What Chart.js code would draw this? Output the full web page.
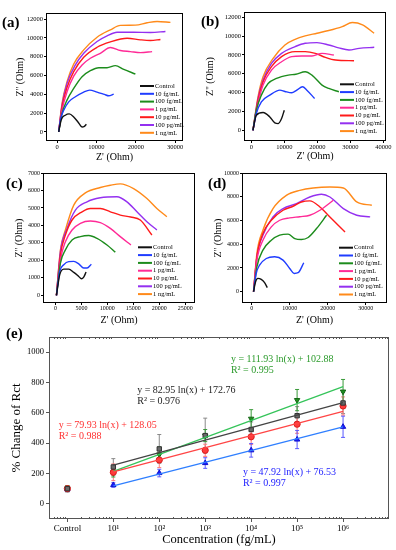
<!DOCTYPE html>
<html>
<head>
<meta charset="utf-8">
<script src="https://cdn.jsdelivr.net/npm/chart.js@4.4.0/dist/chart.umd.min.js"></script>
<style>
  body { margin: 0; background: #fff; width: 396px; height: 550px; position: relative; overflow: hidden; font-family: 'Liberation Serif', 'DejaVu Serif', serif; }
  canvas { position: absolute; }
  .tag { position: absolute; font-weight: bold; font-size: 15px; line-height: 15px; color: #000; }
</style>
</head>
<body>
<canvas id="chart-a" width="200" height="166" style="left:0;top:0"></canvas>
<canvas id="chart-b" width="200" height="166" style="left:196px;top:0"></canvas>
<canvas id="chart-c" width="200" height="164" style="left:0;top:166px"></canvas>
<canvas id="chart-d" width="200" height="164" style="left:196px;top:166px"></canvas>
<canvas id="chart-e" width="396" height="232" style="left:0;top:318px"></canvas>
<div class="tag" style="left:2px;top:15px">(a)</div>
<div class="tag" style="left:201px;top:14px">(b)</div>
<div class="tag" style="left:6px;top:176px">(c)</div>
<div class="tag" style="left:208px;top:176px">(d)</div>
<div class="tag" style="left:6px;top:326px">(e)</div>
<script>
const SERIF = "'Liberation Serif', 'DejaVu Serif', serif"

const curveLabels = ['Control', '10 fg/mL', '100 fg/mL', '1 pg/mL', '10 pg/mL', '100 pg/mL', '1 ng/mL']
const curveColors = ['#111111', '#1f3cff', '#1c8c1c', '#ff2a96', '#ff1a1a', '#9430f0', '#ff8a1a']

// Nyquist curves, [Z', Z''] pairs
const aControl = [[420, 0], [1100, 1320], [2100, 1780], [3100, 1920], [4240, 1600], [5500, 960], [6360, 530], [6950, 600], [7460, 820]]
const aBlue = [[420, 0], [850, 1250], [1700, 2310], [2970, 3200], [4660, 3740], [6780, 4240], [8300, 4450], [10170, 4240], [12030, 3990], [13140, 3840], [14400, 4020]]
const aGreen = [[420, 0], [1270, 1960], [2540, 3380], [4240, 4630], [6360, 5870], [8470, 6510], [10600, 6830], [12700, 6830], [14830, 7050], [16950, 6650], [19900, 6160]]
const aPink = [[420, 0], [1270, 2310], [2540, 4270], [4240, 5940], [6360, 7120], [8470, 7830], [11000, 8360], [13560, 8970], [16100, 8650], [18640, 8540], [21200, 8430], [24150, 8540]]
const aRed = [[420, 0], [1270, 2670], [2540, 4730], [4240, 6410], [6780, 7940], [10170, 9000], [13560, 9570], [17800, 9960], [21190, 9790], [23730, 9720], [26270, 9820]]
const aPurple = [[420, 0], [1270, 2850], [2540, 5160], [4660, 7120], [6780, 8360], [10170, 9610], [12710, 10210], [15250, 10600], [19490, 10600], [23730, 10570], [27540, 10680]]
const aOrange = [[420, 0], [1270, 3020], [2540, 5340], [4240, 7220], [6780, 8720], [10170, 10070], [13560, 10850], [16100, 11320], [19900, 11350], [22880, 11600], [25420, 11740], [28810, 11640]]

const bControl = [[510, 0], [1530, 1600], [3570, 1880], [5610, 1420], [7140, 780], [8160, 710], [9180, 1240], [10000, 2130]]
const bBlue = [[510, 0], [1530, 1780], [3060, 3020], [5610, 3730], [8670, 4260], [10200, 4120], [12240, 3980], [13780, 4260], [15510, 4620], [16840, 4260], [19180, 3380]]
const bGreen = [[510, 0], [1530, 2130], [3060, 3730], [5100, 4970], [7650, 5510], [11220, 5860], [13500, 5950], [16330, 6220], [18370, 5860], [21430, 4800], [23470, 4440], [26530, 4090]]
const bPink = [[510, 0], [2040, 2840], [3570, 4800], [6120, 6390], [9180, 7280], [12240, 7820], [15310, 7890], [18370, 7890], [21430, 8170], [25000, 7990]]
const bRed = [[510, 0], [2040, 3200], [3570, 5150], [6120, 6750], [9180, 7820], [13270, 8350], [16330, 8350], [19390, 8170], [22450, 7740], [25510, 7460], [31120, 7390]]
const bPurple = [[510, 0], [2040, 3370], [3570, 5330], [6120, 7100], [9180, 8170], [13270, 8880], [16330, 9240], [19900, 9310], [23470, 9060], [26500, 8750], [29590, 8530], [32650, 8700], [37240, 8810]]
const bOrange = [[510, 0], [2040, 3550], [3570, 5680], [6630, 7640], [10200, 9060], [13270, 9660], [16330, 10020], [19900, 10300], [23470, 10590], [27550, 11010], [30600, 11440], [33700, 11200], [37200, 10300]]

const cControl = [[190, 0], [830, 1180], [1600, 1500], [2560, 1500], [3530, 1310], [4490, 1080], [5000, 950], [5450, 1040], [5900, 1330]]
const cBlue = [[190, 0], [830, 1370], [1600, 1750], [2560, 1930], [3530, 1940], [4490, 1800], [5450, 1560], [6090, 1560], [6920, 1780]]
const cGreen = [[190, 0], [960, 1840], [1920, 2600], [3200, 3170], [4810, 3360], [6410, 3420], [8010, 3260], [9940, 2880], [11540, 2470]]
const cPink = [[190, 0], [960, 2030], [1920, 3070], [3200, 3740], [4810, 4120], [6730, 4250], [8650, 4160], [10580, 3830], [12500, 3360], [14550, 2880]]
const cRed = [[190, 0], [960, 2320], [1920, 3450], [3200, 4310], [5130, 4780], [6730, 4970], [8650, 4970], [10580, 4780], [12500, 4590], [14500, 4480], [16350, 4310], [18590, 3450]]
const cPurple = [[190, 0], [960, 2500], [2240, 3830], [3850, 4880], [6090, 5350], [8650, 5580], [11860, 5640], [13780, 5350], [15710, 4780], [17630, 4210], [19550, 3740]]
const cOrange = [[190, 0], [960, 2600], [1920, 3740], [3530, 5160], [5770, 5860], [8650, 6170], [10580, 6300], [12500, 6380], [15060, 6110], [17630, 5540], [19550, 4970], [21470, 4500]]

const dControl = [[440, 0], [970, 840], [1590, 1120], [2470, 1040], [3350, 760], [4060, 340]]
const dBlue = [[440, 0], [1150, 1540], [2030, 2240], [3800, 2800], [6000, 2940], [8210, 2660], [9970, 1960], [11120, 1540], [12180, 1600], [13680, 2440]]
const dGreen = [[440, 0], [1320, 2100], [2910, 3500], [5120, 4340], [7330, 4760], [9530, 4850], [11300, 4480], [13060, 4400], [14830, 4570], [17030, 5320], [19680, 6440]]
const dPink = [[440, 0], [1320, 2660], [2910, 4340], [5120, 5460], [7330, 6020], [9970, 6220], [12620, 6320], [15270, 6440], [17920, 6860], [21450, 7700]]
const dRed = [[440, 0], [1320, 2940], [2910, 4900], [5120, 6020], [8210, 6860], [10860, 7200], [13060, 7560], [15270, 7650], [17920, 7140], [20560, 6300], [24540, 5040]]
const dPurple = [[440, 0], [1320, 2940], [2910, 4760], [5560, 6300], [8210, 7000], [11740, 7420], [15270, 7980], [18360, 8210], [20560, 7980], [24100, 7000], [27630, 6440], [31160, 6300]]
const dOrange = [[440, 0], [1320, 3220], [2910, 5180], [5560, 7000], [9090, 8120], [12620, 8540], [16150, 8740], [20560, 8820], [24100, 8740], [27630, 7560], [31600, 7280]]

// Panel (e): % change of Rct, x in decades (0 = control)
const eTicks = [0, 1, 2, 3, 4, 5, 6]
const eTickLabels = ['Control', '10\u00b9', '10\u00b2', '10\u00b3', '10\u2074', '10\u2075', '10\u2076']
const eX = [0, 1, 2, 3, 4, 5, 6]
const blackY = [100, 243, 362, 450, 490, 581, 665]
const blackErr = [20, 55, 95, 115, 50, 60, 70]
const redY = [100, 208, 289, 353, 442, 525, 645]
const redErr = [20, 55, 50, 40, 50, 60, 60]
const greenY = [100, 207, 325, 450, 561, 684, 740]
const greenErr = [20, 30, 50, 40, 60, 70, 80]
const blueY = [95, 124, 203, 269, 353, 424, 508]
const blueErr = [15, 15, 25, 35, 45, 60, 70]
const fitX = [1, 6]
const blackFit = [255, 667]
const redFit = [210, 609]
const greenFit = [214, 773]
const blueFit = [119, 508]

const framePlugin = {
  id: 'frame',
  afterDraw (chart, args, opts) {
    const { ctx, chartArea: a } = chart
    ctx.save()
    ctx.strokeStyle = opts.color || '#000'
    ctx.lineWidth = 1
    ctx.strokeRect(Math.round(a.left) + 0.5, Math.round(a.top) + 0.5, Math.round(a.width) - 1, Math.round(a.height) - 1)
    ctx.restore()
  }
}

const insideLegend = {
  id: 'inLegend',
  afterDraw (chart, args, opts) {
    if (!opts.show) return
    const { ctx, chartArea: a } = chart
    ctx.save()
    ctx.font = `6.5px ${SERIF}`
    ctx.textBaseline = 'middle'
    chart.data.datasets.forEach((ds, i) => {
      const x = a.right - opts.dx
      const y = a.bottom - opts.dy + i * 7.8
      ctx.strokeStyle = ds.borderColor
      ctx.lineWidth = 2
      ctx.beginPath()
      ctx.moveTo(x, y)
      ctx.lineTo(x + 14, y)
      ctx.stroke()
      ctx.fillStyle = '#000'
      ctx.fillText(ds.label, x + 15, y)
    })
    ctx.restore()
  }
}

const errorBars = {
  id: 'errorBars',
  beforeDatasetsDraw (chart) {
    const { ctx, scales: { x, y } } = chart
    chart.data.datasets.forEach((ds) => {
      if (!ds.errors) return
      ctx.save()
      ctx.strokeStyle = ds.errorColor
      ctx.lineWidth = 1
      ds.data.forEach((p, i) => {
        const px = x.getPixelForValue(p.x)
        const top = y.getPixelForValue(p.y + ds.errors[i])
        const bot = y.getPixelForValue(p.y - ds.errors[i])
        ctx.beginPath()
        ctx.moveTo(px, top)
        ctx.lineTo(px, bot)
        ctx.moveTo(px - 2, top)
        ctx.lineTo(px + 2, top)
        ctx.moveTo(px - 2, bot)
        ctx.lineTo(px + 2, bot)
        ctx.stroke()
      })
      ctx.restore()
    })
  }
}

const notes = {
  id: 'notes',
  afterDraw (chart, args, opts) {
    if (!opts.items) return
    const { ctx, scales: { x, y }, chartArea: a } = chart
    ctx.save()
    ctx.font = `10px ${SERIF}`
    ctx.textBaseline = 'middle'
    opts.items.forEach((it) => {
      ctx.fillStyle = it.color
      const px = x.getPixelForValue(it.x)
      const py = y.getPixelForValue(it.y)
      it.lines.forEach((t, k) => ctx.fillText(t, px, py + k * 11))
    })
    // log minor ticks on top and bottom edges
    ctx.strokeStyle = '#555'
    ctx.lineWidth = 1
    ctx.beginPath()
    for (let d = -1; d < 7; d++) {
      for (let k = 2; k < 10; k++) {
        const v = d + Math.log10(k)
        if (v < x.min || v > x.max) continue
        const px = Math.round(x.getPixelForValue(v)) + 0.5
        ctx.moveTo(px, a.bottom)
        ctx.lineTo(px, a.bottom - 2)
        ctx.moveTo(px, a.top)
        ctx.lineTo(px, a.top + 2)
      }
    }
    ctx.stroke()
    ctx.restore()
  }
}

Chart.register(framePlugin, insideLegend, errorBars, notes)

function axis (range, ticks, title, size, opts) {
  return {
    type: 'linear',
    min: range[0],
    max: range[1],
    afterBuildTicks: (s) => { s.ticks = ticks.map((v) => ({ value: v })) },
    afterFit: (s) => {
      if (s.isHorizontal()) s.height = size
      else s.width = size
    },
    ticks: {
      font: { family: SERIF, size: opts.tickSize },
      color: '#000',
      padding: opts.tickPad,
      maxRotation: 0,
      autoSkip: false,
      callback: opts.label || ((v) => String(v))
    },
    grid: { drawOnChartArea: false, drawTicks: true, tickLength: opts.tickLen || 2, color: opts.color || '#000' },
    border: { display: false },
    title: {
      display: true,
      text: title,
      color: '#000',
      font: { family: SERIF, size: opts.titleSize },
      padding: opts.titlePad
    }
  }
}

function nyquist (id, series, cfg) {
  return new Chart(document.getElementById(id), {
    type: 'line',
    data: {
      datasets: series.map((points, i) => ({
        label: curveLabels[i],
        data: points.map(([x, y]) => ({ x, y })),
        borderColor: curveColors[i],
        borderWidth: 1.4,
        pointRadius: 0,
        cubicInterpolationMode: 'monotone',
        fill: false
      }))
    },
    options: {
      responsive: false,
      animation: false,
      layout: { padding: cfg.padding },
      plugins: {
        legend: { display: false },
        tooltip: { enabled: false },
        frame: { color: '#000' },
        inLegend: { show: true, dx: cfg.legend[0], dy: cfg.legend[1] }
      },
      scales: {
        x: axis(cfg.xRange, cfg.xTicks, "Z' (Ohm)", cfg.xSize,
          { tickSize: cfg.tick, tickPad: 0, titleSize: 10, titlePad: { top: 0, bottom: cfg.xTitlePad } }),
        y: axis(cfg.yRange, cfg.yTicks, "Z'' (Ohm)", cfg.ySize,
          { tickSize: cfg.tick, tickPad: 1, titleSize: 10, titlePad: { top: cfg.yTitlePad, bottom: 0 } })
      }
    }
  })
}

nyquist('chart-a', [aControl, aBlue, aGreen, aPink, aRed, aPurple, aOrange], {
  padding: { left: 0, top: 13, right: 17, bottom: 0 },
  xRange: [-2800, 32000],
  yRange: [-960, 12640],
  xTicks: [0, 10000, 20000, 30000],
  yTicks: [0, 2000, 4000, 6000, 8000, 10000, 12000],
  xSize: 25,
  ySize: 46,
  tick: 6.5,
  xTitlePad: 3,
  yTitlePad: 14,
  legend: [43, 55]
})

nyquist('chart-b', [bControl, bBlue, bGreen, bPink, bRed, bPurple, bOrange], {
  padding: { left: 0, top: 12, right: 10, bottom: 0 },
  xRange: [-2200, 40800],
  yRange: [-1140, 12560],
  xTicks: [0, 10000, 20000, 30000, 40000],
  yTicks: [0, 2000, 4000, 6000, 8000, 10000, 12000],
  xSize: 25,
  ySize: 48,
  tick: 6.5,
  xTitlePad: 4,
  yTitlePad: 8,
  legend: [46, 56.7]
})

nyquist('chart-c', [cControl, cBlue, cGreen, cPink, cRed, cPurple, cOrange], {
  padding: { left: 0, top: 7, right: 5, bottom: 0 },
  xRange: [-2400, 26900],
  yRange: [-440, 7000],
  xTicks: [0, 5000, 10000, 15000, 20000, 25000],
  yTicks: [0, 1000, 2000, 3000, 4000, 5000, 6000, 7000],
  xSize: 27,
  ySize: 43,
  tick: 6,
  xTitlePad: 4,
  yTitlePad: 13,
  legend: [57, 55.7]
})

nyquist('chart-d', [dControl, dBlue, dGreen, dPink, dRed, dPurple, dOrange], {
  padding: { left: 0, top: 7, right: 9, bottom: 0 },
  xRange: [-2600, 35600],
  yRange: [-950, 10000],
  xTicks: [0, 10000, 20000, 30000],
  yTicks: [0, 2000, 4000, 6000, 8000, 10000],
  xSize: 27,
  ySize: 46,
  tick: 6,
  xTitlePad: 4,
  yTitlePad: 16,
  legend: [48, 55.3]
})

function pointsOf (ys) {
  return eX.map((x, i) => ({ x, y: ys[i] }))
}

function fitOf (ys) {
  return fitX.map((x, i) => ({ x, y: ys[i] }))
}

function fitLine (ys, color) {
  return { data: fitOf(ys), borderColor: color, borderWidth: 1.3, pointRadius: 0, tension: 0 }
}

function markers (ys, errs, style, fill, edge, errColor, rotation) {
  return {
    data: pointsOf(ys),
    showLine: false,
    pointStyle: style,
    pointRotation: rotation || 0,
    pointRadius: 3.1,
    pointBackgroundColor: fill,
    pointBorderColor: edge,
    pointBorderWidth: 1,
    errors: errs,
    errorColor: errColor
  }
}

new Chart(document.getElementById('chart-e'), {
  type: 'line',
  data: {
    datasets: [
      fitLine(blackFit, '#444444'),
      fitLine(redFit, '#ff4545'),
      fitLine(blueFit, '#2f7fff'),
      fitLine(greenFit, '#35c45a'),
      markers(blackY, blackErr, 'rect', '#6a6a6a', '#333333', '#8a8a8a'),
      markers(redY, redErr, 'circle', '#ff3b3b', '#d81b1b', '#ff7a7a'),
      markers(blueY, blueErr, 'triangle', '#1a1aff', '#1010cc', '#5a5aff'),
      markers(greenY, greenErr, 'triangle', '#1f8f1f', '#156615', '#3a9a3a', 180)
    ]
  },
  options: {
    responsive: false,
    animation: false,
    layout: { padding: { left: 0, top: 19, right: 7, bottom: 0 } },
    plugins: {
      legend: { display: false },
      tooltip: { enabled: false },
      frame: { color: '#555' },
      notes: {
        items: [
          { x: 3.56, y: 954, color: '#2a9a2a', lines: ['y = 111.93 ln(x) + 102.88', 'R\u00b2 = 0.995'] },
          { x: 1.52, y: 750, color: '#222222', lines: ['y = 82.95 ln(x) + 172.76', 'R\u00b2 = 0.976'] },
          { x: -0.19, y: 517, color: '#ff3030', lines: ['y = 79.93 ln(x) + 128.05', 'R\u00b2 = 0.988'] },
          { x: 3.82, y: 207, color: '#2222ff', lines: ['y = 47.92 ln(x) + 76.53', 'R\u00b2 = 0.997'] }
        ]
      }
    },
    scales: {
      x: axis([-0.4, 7], eTicks, 'Concentration (fg/mL)', 31, {
        tickSize: 9,
        tickPad: 1,
        tickLen: 3,
        color: '#555',
        titleSize: 12.5,
        titlePad: { top: 0, bottom: 3 },
        label: (v) => eTickLabels[eTicks.indexOf(v)]
      }),
      y: axis([-100, 1100], [0, 200, 400, 600, 800, 1000], '% Change of Rct', 49, {
        tickSize: 8.5,
        tickPad: 2,
        tickLen: 3,
        color: '#555',
        titleSize: 13,
        titlePad: { top: 9, bottom: 0 }
      })
    }
  }
})
</script>
</body>
</html>
